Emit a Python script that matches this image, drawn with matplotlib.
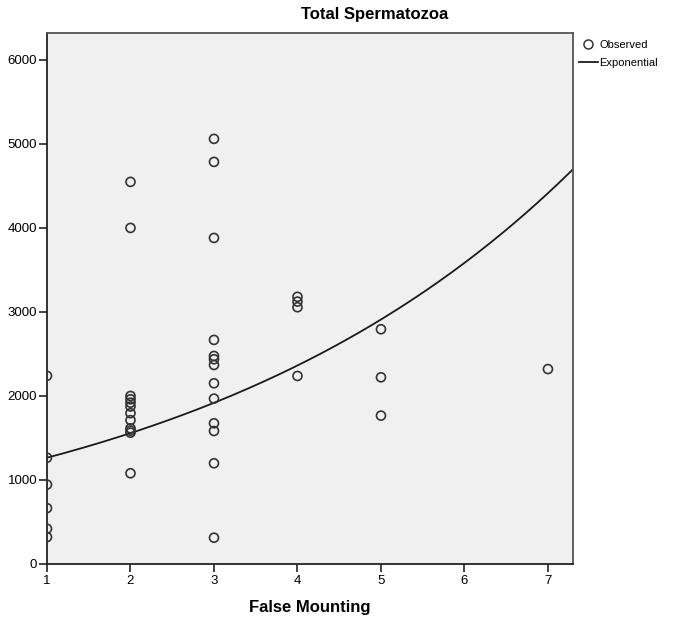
import numpy as np
import matplotlib
matplotlib.use("Agg")
import matplotlib.pyplot as plt
from matplotlib.lines import Line2D

plt.rcParams['font.family'] = ['Liberation Sans', 'DejaVu Sans']

# observed values, grouped by false mounting count
mount_1 = [2240, 1265, 945, 665, 420, 320]
mount_2 = [4548, 4000, 2000, 1960, 1920, 1875, 1795, 1712, 1615, 1587, 1563, 1080]
mount_3 = [5060, 4786, 3881, 2667, 2476, 2437, 2369, 2151, 1968, 1675, 1583, 1199, 313]
mount_4 = [3180, 3123, 3056, 2238]
mount_5 = [2794, 2222, 1766]
mount_7 = [2320]

groups = {1: mount_1, 2: mount_2, 3: mount_3, 4: mount_4, 5: mount_5, 7: mount_7}

# exponential fit: y = a * exp(b * x)
curve_a = 1027
curve_b = 0.2083

x_obs = np.concatenate([[k] * len(v) for k, v in groups.items()])
y_obs = np.concatenate([v for v in groups.values()])

fig = plt.figure(figsize=(6.78, 6.23), dpi=100)
ax = fig.add_axes([47 / 678, 1 - 564 / 623, 526 / 678, 531 / 623])
ax.set_facecolor('#f0f0f0')

xs = np.linspace(1, 7.3, 200)
ax.plot(xs, curve_a * np.exp(curve_b * xs), color='#1a1a1a', lw=1.3)
pts = ax.scatter(x_obs, y_obs, s=42, facecolors='none', edgecolors='#333333',
                 linewidths=1.2, zorder=3, clip_on=True)
pts.set_clip_path(ax.patch)

ax.set_xlim(1, 7.3)
ax.set_ylim(0, 6320)
ax.set_xticks(range(1, 8))
ax.set_yticks(range(0, 7000, 1000))
ax.tick_params(axis='both', direction='out', length=6, width=1.2, color='#222222', labelsize=9.5)
ax.tick_params(axis='x', pad=2)
ax.tick_params(axis='y', pad=1)

for side in ['left', 'bottom']:
    ax.spines[side].set_color('#222222')
    ax.spines[side].set_linewidth(1.3)
for side in ['top', 'right']:
    ax.spines[side].set_color('#555555')
    ax.spines[side].set_linewidth(1.3)

ax.set_xlabel('False Mounting', fontsize=12, fontweight='bold', labelpad=9)
fig.text(375 / 678, 1 - 14 / 623, 'Total Spermatozoa', fontsize=12, fontweight='bold',
         ha='center', va='center')

handles = [
    Line2D([], [], ls='none', marker='o', markerfacecolor='none', markeredgecolor='#333333',
           markersize=6.5, markeredgewidth=1.1),
    Line2D([], [], color='#1a1a1a', lw=1.3),
]
fig.legend(handles, ['Observed', 'Exponential'], loc='upper left',
           bbox_to_anchor=(579 / 678, 1 - 40 / 623), frameon=False, fontsize=8,
           handlelength=1.7, handletextpad=0.15, labelspacing=0.75, borderpad=0, borderaxespad=0)

fig.savefig('out.png', dpi=100)
